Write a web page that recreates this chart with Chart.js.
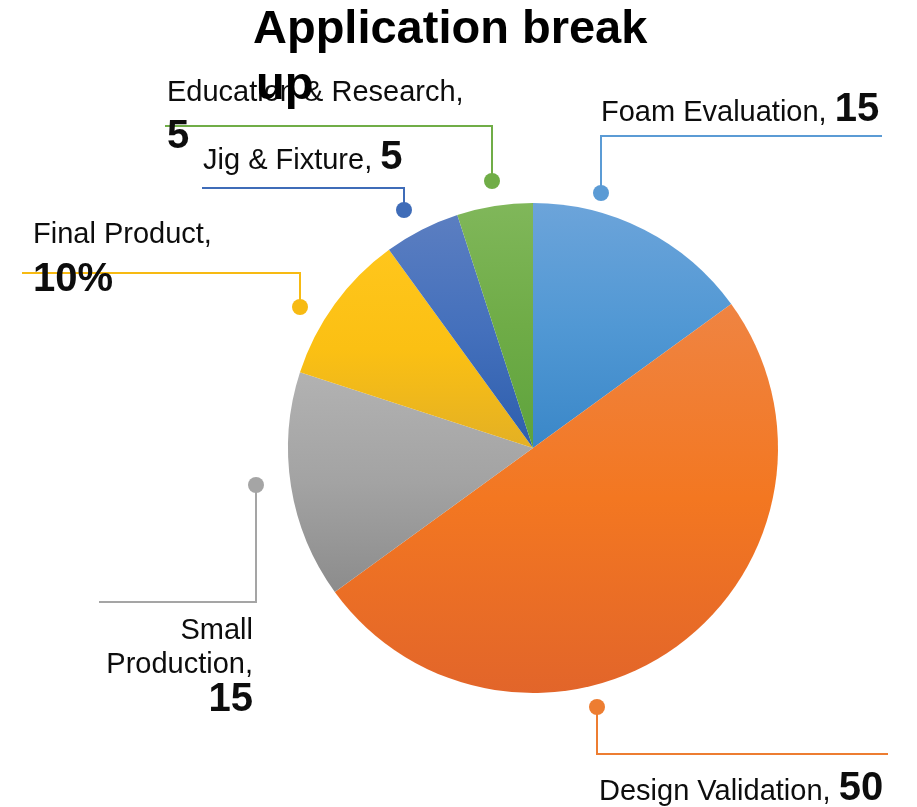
<!DOCTYPE html>
<html><head><meta charset="utf-8">
<script src="https://cdn.jsdelivr.net/npm/chart.js@4/dist/chart.umd.min.js"></script>
<style>html,body{margin:0;padding:0;background:#fff;overflow:hidden}#wrap{width:917px;height:807px;position:relative}</style>
</head><body>
<div id="wrap"><canvas id="c" width="917" height="807"></canvas></div>
<script>
// ---- data ----
const titleLines = ["Application break", "up"];
const categories = ["Foam Evaluation", "Design Validation", "Small Production", "Final Product", "Jig & Fixture", "Education & Research"];
const values = [15, 50, 15, 10, 5, 5];
const valueLabels = ["15", "50", "15", "10%", "5", "5"];

// ---- styles ----
const gradientTop    = ["#6CA4DA", "#EF8442", "#B2B2B2", "#FFC61C", "#5B7EC1", "#80B75A"];
const gradientMid    = ["#5198D4", "#F37721", "#A3A3A3", "#FBC013", "#4470BC", "#6FAC47"];
const gradientBottom = ["#3A87C8", "#E2652A", "#8C8C8C", "#E3B024", "#2D5EAD", "#5EA33D"];
const lineColors     = ["#5B9BD5", "#ED7D31", "#A5A5A5", "#F7BA12", "#3F6CB8", "#70AD47"];
const REG = '29px "Liberation Sans", Arial, sans-serif';
const BOLD = 'bold 40px "Liberation Sans", Arial, sans-serif';
const TITLE_FONT = 'bold 47px "Liberation Sans", Arial, sans-serif';

// label layout: leader path (dot first) and text lines, each line = list of [text, isBold]
const labelLayout = [
  { path: [[601,193],[601,136],[882,136]], align: "left", x: 601,
    lines: [{ y: 121, parts: [[categories[0] + ", ", false], [valueLabels[0], true]] }] },
  { path: [[597,707],[597,754],[888,754]], align: "left", x: 599,
    lines: [{ y: 800, parts: [[categories[1] + ", ", false], [valueLabels[1], true]] }] },
  { path: [[256,485],[256,602],[99,602]], align: "right", x: 253,
    lines: [{ y: 639, parts: [["Small", false]] }, { y: 673, parts: [["Production,", false]] }, { y: 711, parts: [[valueLabels[2], true]] }] },
  { path: [[300,307],[300,273],[22,273]], align: "left", x: 33,
    lines: [{ y: 243, parts: [[categories[3] + ",", false]] }, { y: 291, parts: [[valueLabels[3], true]] }] },
  { path: [[404,210],[404,188],[202,188]], align: "left", x: 203,
    lines: [{ y: 169, parts: [[categories[4] + ", ", false], [valueLabels[4], true]] }] },
  { path: [[492,181],[492,126],[165,126]], align: "left", x: 167,
    lines: [{ y: 101, parts: [[categories[5] + ",", false]] }, { y: 148, parts: [[valueLabels[5], true]] }] }
];

function sliceGradient(ctx) {
  const chart = ctx.chart, ca = chart.chartArea, i = ctx.dataIndex;
  if (!ca) return gradientMid[i];
  const cx = (ca.left + ca.right) / 2, cy = (ca.top + ca.bottom) / 2;
  const r = Math.min(ca.right - ca.left, ca.bottom - ca.top) / 2;
  const total = values.reduce((a, b) => a + b, 0);
  let acc = 0; for (let k = 0; k < i; k++) acc += values[k];
  const a0 = -Math.PI / 2 + acc / total * 2 * Math.PI;
  const a1 = a0 + values[i] / total * 2 * Math.PI;
  const ys = [cy, cy + r * Math.sin(a0), cy + r * Math.sin(a1)];
  for (const a of [-Math.PI / 2, Math.PI / 2, 3 * Math.PI / 2]) if (a > a0 && a < a1) ys.push(cy + r * Math.sin(a));
  const y0 = Math.min(...ys), y1 = Math.max(...ys);
  const g = chart.ctx.createLinearGradient(0, y0, 0, y1);
  g.addColorStop(0, gradientTop[i]);
  g.addColorStop(0.5, gradientMid[i]);
  g.addColorStop(1, gradientBottom[i]);
  return g;
}

const labelsPlugin = {
  id: "leaderLabels",
  afterDraw(chart) {
    const c = chart.ctx;
    c.save();
    labelLayout.forEach((L, i) => {
      c.strokeStyle = lineColors[i]; c.lineWidth = 2;
      c.beginPath();
      L.path.forEach((p, k) => k ? c.lineTo(p[0], p[1]) : c.moveTo(p[0], p[1]));
      c.stroke();
      c.fillStyle = lineColors[i];
      c.beginPath(); c.arc(L.path[0][0], L.path[0][1], 8, 0, Math.PI * 2); c.fill();
    });
    c.fillStyle = "#0D0D0D"; c.textBaseline = "alphabetic"; c.textAlign = "left";
    labelLayout.forEach(L => {
      L.lines.forEach(line => {
        let w = 0;
        line.parts.forEach(p => { c.font = p[1] ? BOLD : REG; w += c.measureText(p[0]).width; });
        let x = L.align === "right" ? L.x - w : L.x;
        line.parts.forEach(p => { c.font = p[1] ? BOLD : REG; c.fillText(p[0], x, line.y); x += c.measureText(p[0]).width; });
      });
    });
    c.fillStyle = "#000"; c.font = TITLE_FONT;
    c.fillText(titleLines[0], 253, 43);
    c.fillText(titleLines[1], 256, 99);
    c.restore();
  }
};

new Chart(document.getElementById("c"), {
  type: "pie",
  data: { labels: categories, datasets: [{ data: values, backgroundColor: sliceGradient, borderWidth: 0 }] },
  options: {
    responsive: false, devicePixelRatio: 1, animation: false,
    layout: { padding: { left: 288, right: 139, top: 203, bottom: 114 } },
    plugins: { legend: { display: false }, tooltip: { enabled: false }, title: { display: false } }
  },
  plugins: [labelsPlugin]
});
</script>
</body></html>
